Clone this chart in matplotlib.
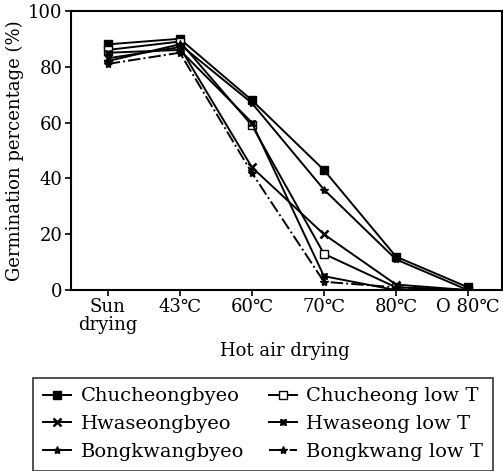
import matplotlib
matplotlib.use("Agg")
import matplotlib.pyplot as plt

plt.rcParams['font.family'] = ['DejaVu Serif']

categories = ["Sun\ndrying", "43\u2103", "60\u2103", "70\u2103", "80\u2103", "O 80\u2103"]
series_names = ["Chucheongbyeo", "Chucheong low T", "Hwaseongbyeo",
                "Hwaseong low T", "Bongkwangbyeo", "Bongkwang low T"]
chucheongbyeo = [88, 90, 68, 43, 12, 1]
chucheong_low = [86, 89, 59, 13, 1, 0]
hwaseongbyeo = [83, 87, 44, 20, 2, 0]
hwaseong_low = [85, 86, 60, 5, 0, 0]
bongkwangbyeo = [82, 88, 67, 36, 11, 0]
bongkwang_low = [81, 85, 42, 3, 1, 0]
yticks = [0, 20, 40, 60, 80, 100]

fig = plt.figure(figsize=(5.03, 4.71), dpi=100)
ax = fig.add_axes([0.141, 0.384, 0.857, 0.593])

x = list(range(len(categories)))
styles = [
    dict(marker='s', mfc='black', ls='-'),
    dict(marker='s', mfc='white', ls='-'),
    dict(marker='x', mfc='black', ls='-', mew=1.8),
    dict(marker=(4, 1, 45), mfc='black', ls='-'),
    dict(marker='*', mfc='black', ls='-'),
    dict(marker='*', mfc='black', ls='-.'),
]
data = [chucheongbyeo, chucheong_low, hwaseongbyeo, hwaseong_low, bongkwangbyeo, bongkwang_low]
handles = []
for name, vals, st in zip(series_names, data, styles):
    h, = ax.plot(x, vals, color='black', lw=1.4, ms=6, mec='black', label=name,
                 **st)
    handles.append(h)

ax.set_xlim(-0.51, 5.47)
ax.set_ylim(0, 100)
ax.set_yticks(yticks)
ax.set_xticks(x)
ax.set_xticklabels(categories, fontsize=13, linespacing=1.0)
ax.tick_params(axis='y', labelsize=13, direction='out', length=4, width=1.2, pad=2)
ax.tick_params(axis='x', direction='out', length=4, width=1.2, pad=2)
for s in ax.spines.values():
    s.set_linewidth(1.5)
ax.set_ylabel("Germination percentage (%)", fontsize=13, labelpad=3)
fig.text(0.567, 0.255, "Hot air drying", fontsize=13, ha='center', va='center')

order = [0, 2, 4, 1, 3, 5]
leg = fig.legend(handles=[handles[i] for i in order], loc='upper left', ncol=2,
                 bbox_to_anchor=(0.066, 0.198), fontsize=14, frameon=True,
                 fancybox=False, edgecolor='black', handlelength=1.45,
                 handletextpad=0.5, columnspacing=1.25, labelspacing=0.5,
                 borderpad=0.5, borderaxespad=0)
leg.get_frame().set_linewidth(1.2)

fig.savefig("out.png", dpi=100)
